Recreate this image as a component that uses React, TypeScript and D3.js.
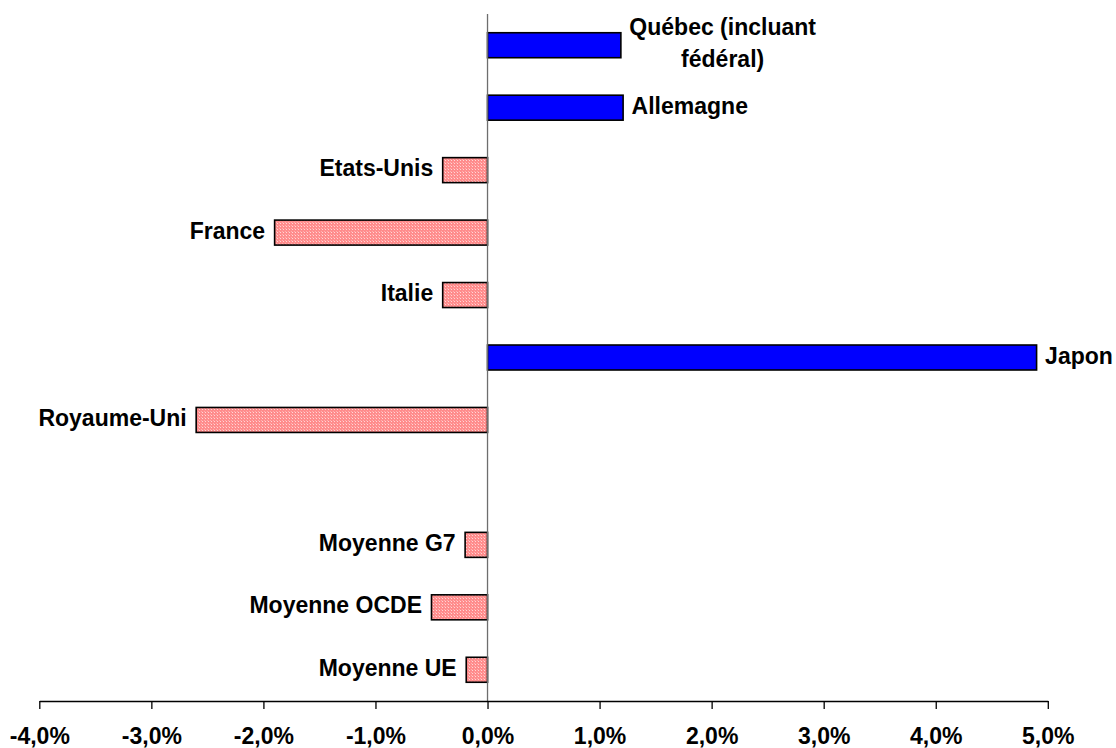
import { useEffect, useRef } from 'react';
import * as d3 from 'd3';

// categories from top to bottom (blank slot between Royaume-Uni and the averages)
const categories = [
  'Québec (incluant\nfédéral)',
  'Allemagne',
  'Etats-Unis',
  'France',
  'Italie',
  'Japon',
  'Royaume-Uni',
  ' ',
  'Moyenne G7',
  'Moyenne OCDE',
  'Moyenne UE',
];
const values: (number | null)[] = [1.19, 1.21, -0.4, -1.9, -0.4, 4.9, -2.6, null, -0.2, -0.5, -0.19];
const tickValues = [-4, -3, -2, -1, 0, 1, 2, 3, 4, 5];

const width = 1116;
const height = 748;
const left = 39.3;
const right = 1047.8;
const top = 14;
const bottom = 701;
const font = '"Liberation Sans", Arial, Helvetica, sans-serif';

const App = () => {
  const containerRef = useRef<HTMLDivElement | null>(null);

  useEffect(() => {
    if (!containerRef.current) return;
    containerRef.current.innerHTML = '';

    const xScale = d3.scaleLinear([-4, 5], [left, right]);
    const yScale = d3.scaleBand(categories, [top, bottom]).paddingInner(0.6).paddingOuter(0.3);

    const svg = d3
      .create('svg')
      .attr('width', width)
      .attr('height', height)
      .attr('viewBox', [0, 0, width, height])
      .attr('font-family', font)
      .style('background', '#fff')
      .style('display', 'block');

    // attach first so text can be measured
    containerRef.current.append(svg.node() as Node);

    // dotted pink fill used by the negative bars
    const defs = svg.append('defs');
    const pat = defs
      .append('pattern')
      .attr('id', 'pinkDots')
      .attr('patternUnits', 'userSpaceOnUse')
      .attr('width', 3)
      .attr('height', 3);
    pat.append('rect').attr('width', 3).attr('height', 3).attr('fill', '#ff8c8c');
    pat.append('rect').attr('x', 1).attr('y', 1).attr('width', 1).attr('height', 1).attr('fill', '#ffd6d6');
    pat.append('rect').attr('x', 0).attr('y', 0).attr('width', 1).attr('height', 1).attr('fill', '#ffb0b0');

    const rows = categories.map((c, i) => ({ c, v: values[i] })).filter(d => d.v !== null) as {
      c: string;
      v: number;
    }[];

    // bars
    svg
      .append('g')
      .selectAll('rect')
      .data(rows)
      .join('rect')
      .attr('x', d => xScale(Math.min(0, d.v)))
      .attr('y', d => yScale(d.c) as number)
      .attr('width', d => Math.abs(xScale(d.v) - xScale(0)))
      .attr('height', yScale.bandwidth())
      .attr('fill', d => (d.v >= 0 ? '#0000ff' : 'url(#pinkDots)'))
      .attr('stroke', '#000')
      .attr('stroke-width', 1.6);

    // zero line
    svg
      .append('line')
      .attr('x1', xScale(0))
      .attr('x2', xScale(0))
      .attr('y1', top)
      .attr('y2', bottom)
      .attr('stroke', '#6e6e6e')
      .attr('stroke-width', 1.3);

    // category labels beside each bar
    const lineH = 31.5;
    rows.forEach(d => {
      const lines = d.c.split('\n');
      const cy = (yScale(d.c) as number) + yScale.bandwidth() / 2;
      const pos = d.v >= 0;
      const edge = pos ? xScale(d.v) + 8.5 : xScale(d.v) - 9.5;
      const text = svg
        .append('text')
        .attr('font-size', 23)
        .attr('font-weight', 700)
        .attr('fill', '#000');
      const spans = lines.map((l, i) =>
        text
          .append('tspan')
          .attr('x', 0)
          .attr('y', cy + 6 + (i - (lines.length - 1) / 2) * lineH)
          .text(l),
      );
      const widths = spans.map(s => (s.node() as SVGTSpanElement).getComputedTextLength());
      const maxW = d3.max(widths) as number;
      const start = pos ? edge : edge - maxW;
      spans.forEach((s, i) => s.attr('x', start + (maxW - widths[i]) / 2));
    });

    // x axis
    const xAxis = d3
      .axisBottom(xScale)
      .tickValues(tickValues)
      .tickSize(8)
      .tickSizeOuter(0)
      .tickFormat(d => `${(d as number).toFixed(1).replace('.', ',')}%`);

    svg
      .append('g')
      .attr('transform', `translate(0,${bottom})`)
      .call(xAxis)
      .call(g => g.select('.domain').attr('stroke', '#000').attr('stroke-width', 1.3))
      .call(g => g.selectAll('.tick line').attr('stroke', '#000').attr('stroke-width', 1.3))
      .call(g =>
        g
          .selectAll('.tick text')
          .attr('y', 43)
          .attr('dy', 0)
          .attr('fill', '#000')
          .attr('font-family', font)
          .attr('font-size', 23)
          .attr('font-weight', 700),
      );
  }, []);

  return <div ref={containerRef} style={{ position: 'absolute', left: 0, top: 0 }} />;
};

export default App;
